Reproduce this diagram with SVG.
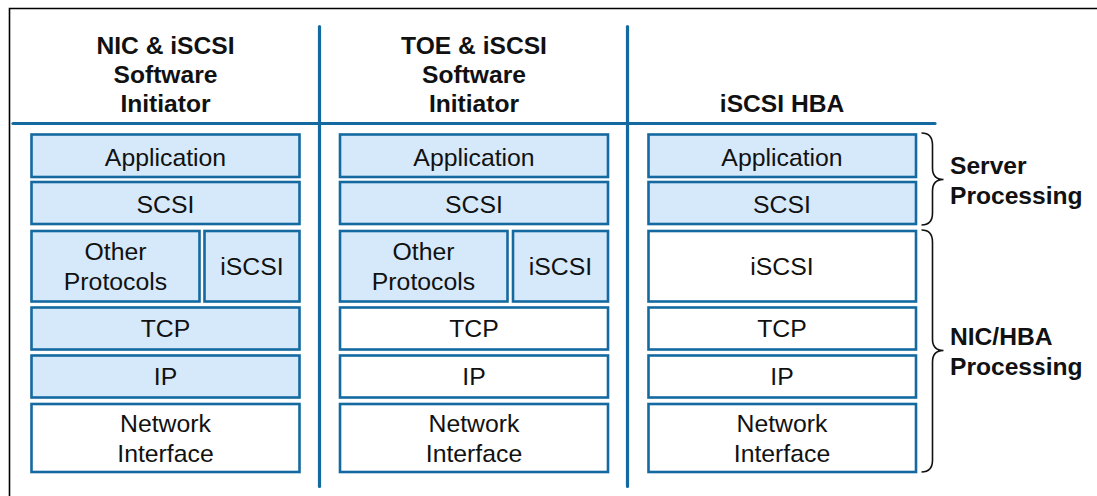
<svg xmlns="http://www.w3.org/2000/svg" width="1097" height="496" viewBox="0 0 1097 496">
<style>
.box{stroke:#146aa0;stroke-width:2.6}
.on{fill:#d6e9fb}
.off{fill:#ffffff}
.t{font-family:"Liberation Sans",Arial,sans-serif;font-size:24.8px;fill:#111;text-anchor:middle}
.h{font-family:"Liberation Sans",Arial,sans-serif;font-size:24.6px;font-weight:bold;fill:#111;text-anchor:middle}
.b{font-family:"Liberation Sans",Arial,sans-serif;font-size:24.6px;font-weight:bold;fill:#111}
.div{stroke:#146aa0;stroke-width:3.2;fill:none;stroke-linecap:round}
.brace{stroke:#111;stroke-width:1.6;fill:none}
</style>
<rect width="1097" height="496" fill="#fff"/>
<path d="M9.5,496 L9.5,8.5 L1097,8.5" fill="none" stroke="#000" stroke-width="1.6"/>

<g id="dividers">
<line class="div" x1="13" y1="123.5" x2="935" y2="123.5"/>
<line class="div" x1="319.5" y1="26.5" x2="319.5" y2="486.5"/>
<line class="div" x1="627.5" y1="26.5" x2="627.5" y2="486.5"/>
</g>

<g id="header1">
<text class="h" x="165.5" y="53.5">NIC &amp; iSCSI</text>
<text class="h" x="165.5" y="82.5">Software</text>
<text class="h" x="165.5" y="112">Initiator</text>
</g>
<g id="header2">
<text class="h" x="474" y="53.5">TOE &amp; iSCSI</text>
<text class="h" x="474" y="82.5">Software</text>
<text class="h" x="474" y="112">Initiator</text>
</g>
<g id="header3">
<text class="h" x="782" y="112">iSCSI HBA</text>
</g>

<!-- Column 1 -->
<g id="c1-app"><rect class="box on" x="31.5" y="134.5" width="268" height="42.5"/><text class="t" x="165.5" y="165.5">Application</text></g>
<g id="c1-scsi"><rect class="box on" x="31.5" y="182" width="268" height="42"/><text class="t" x="165.5" y="212.5">SCSI</text></g>
<g id="c1-other"><rect class="box on" x="31.5" y="231" width="168" height="70.5"/><text class="t" x="115.5" y="260">Other</text><text class="t" x="115.5" y="289.5">Protocols</text></g>
<g id="c1-iscsi"><rect class="box on" x="204.5" y="231" width="95" height="70.5"/><text class="t" x="252" y="275">iSCSI</text></g>
<g id="c1-tcp"><rect class="box on" x="31.5" y="307.5" width="268" height="42"/><text class="t" x="165.5" y="336.5">TCP</text></g>
<g id="c1-ip"><rect class="box on" x="31.5" y="355.5" width="268" height="42"/><text class="t" x="165.5" y="385">IP</text></g>
<g id="c1-net"><rect class="box off" x="31.5" y="404" width="268" height="68"/><text class="t" x="165.5" y="432">Network</text><text class="t" x="165.5" y="461.5">Interface</text></g>

<!-- Column 2 -->
<g id="c2-app"><rect class="box on" x="340" y="134.5" width="268" height="42.5"/><text class="t" x="474" y="165.5">Application</text></g>
<g id="c2-scsi"><rect class="box on" x="340" y="182" width="268" height="42"/><text class="t" x="474" y="212.5">SCSI</text></g>
<g id="c2-other"><rect class="box on" x="340" y="231" width="167.5" height="70.5"/><text class="t" x="423.5" y="260">Other</text><text class="t" x="423.5" y="289.5">Protocols</text></g>
<g id="c2-iscsi"><rect class="box on" x="513" y="231" width="95" height="70.5"/><text class="t" x="560.5" y="275">iSCSI</text></g>
<g id="c2-tcp"><rect class="box off" x="340" y="307.5" width="268" height="42"/><text class="t" x="474" y="336.5">TCP</text></g>
<g id="c2-ip"><rect class="box off" x="340" y="355.5" width="268" height="42"/><text class="t" x="474" y="385">IP</text></g>
<g id="c2-net"><rect class="box off" x="340" y="404" width="268" height="68"/><text class="t" x="474" y="432">Network</text><text class="t" x="474" y="461.5">Interface</text></g>

<!-- Column 3 -->
<g id="c3-app"><rect class="box on" x="648.5" y="134.5" width="267.5" height="42.5"/><text class="t" x="782" y="165.5">Application</text></g>
<g id="c3-scsi"><rect class="box on" x="648.5" y="182" width="267.5" height="42"/><text class="t" x="782" y="212.5">SCSI</text></g>
<g id="c3-iscsi"><rect class="box off" x="648.5" y="231" width="267.5" height="70.5"/><text class="t" x="782" y="275">iSCSI</text></g>
<g id="c3-tcp"><rect class="box off" x="648.5" y="307.5" width="267.5" height="42"/><text class="t" x="782" y="336.5">TCP</text></g>
<g id="c3-ip"><rect class="box off" x="648.5" y="355.5" width="267.5" height="42"/><text class="t" x="782" y="385">IP</text></g>
<g id="c3-net"><rect class="box off" x="648.5" y="404" width="267.5" height="68"/><text class="t" x="782" y="432">Network</text><text class="t" x="782" y="461.5">Interface</text></g>

<g id="connectors">
<path class="brace" d="M921.5,133 Q932.5,133 932.5,145 L932.5,168 Q932.5,179.5 943.5,179.5 Q932.5,179.5 932.5,191 L932.5,213 Q932.5,225 921.5,225"/>
<path class="brace" d="M921.5,230 Q932.5,230 932.5,242 L932.5,339 Q932.5,350.5 943.5,350.5 Q932.5,350.5 932.5,362 L932.5,460 Q932.5,472 921.5,472"/>
</g>

<g id="label-server">
<text class="b" x="950" y="174">Server</text>
<text class="b" x="950" y="204">Processing</text>
</g>
<g id="label-nic">
<text class="b" x="950" y="345">NIC/HBA</text>
<text class="b" x="950" y="375">Processing</text>
</g>
</svg>
